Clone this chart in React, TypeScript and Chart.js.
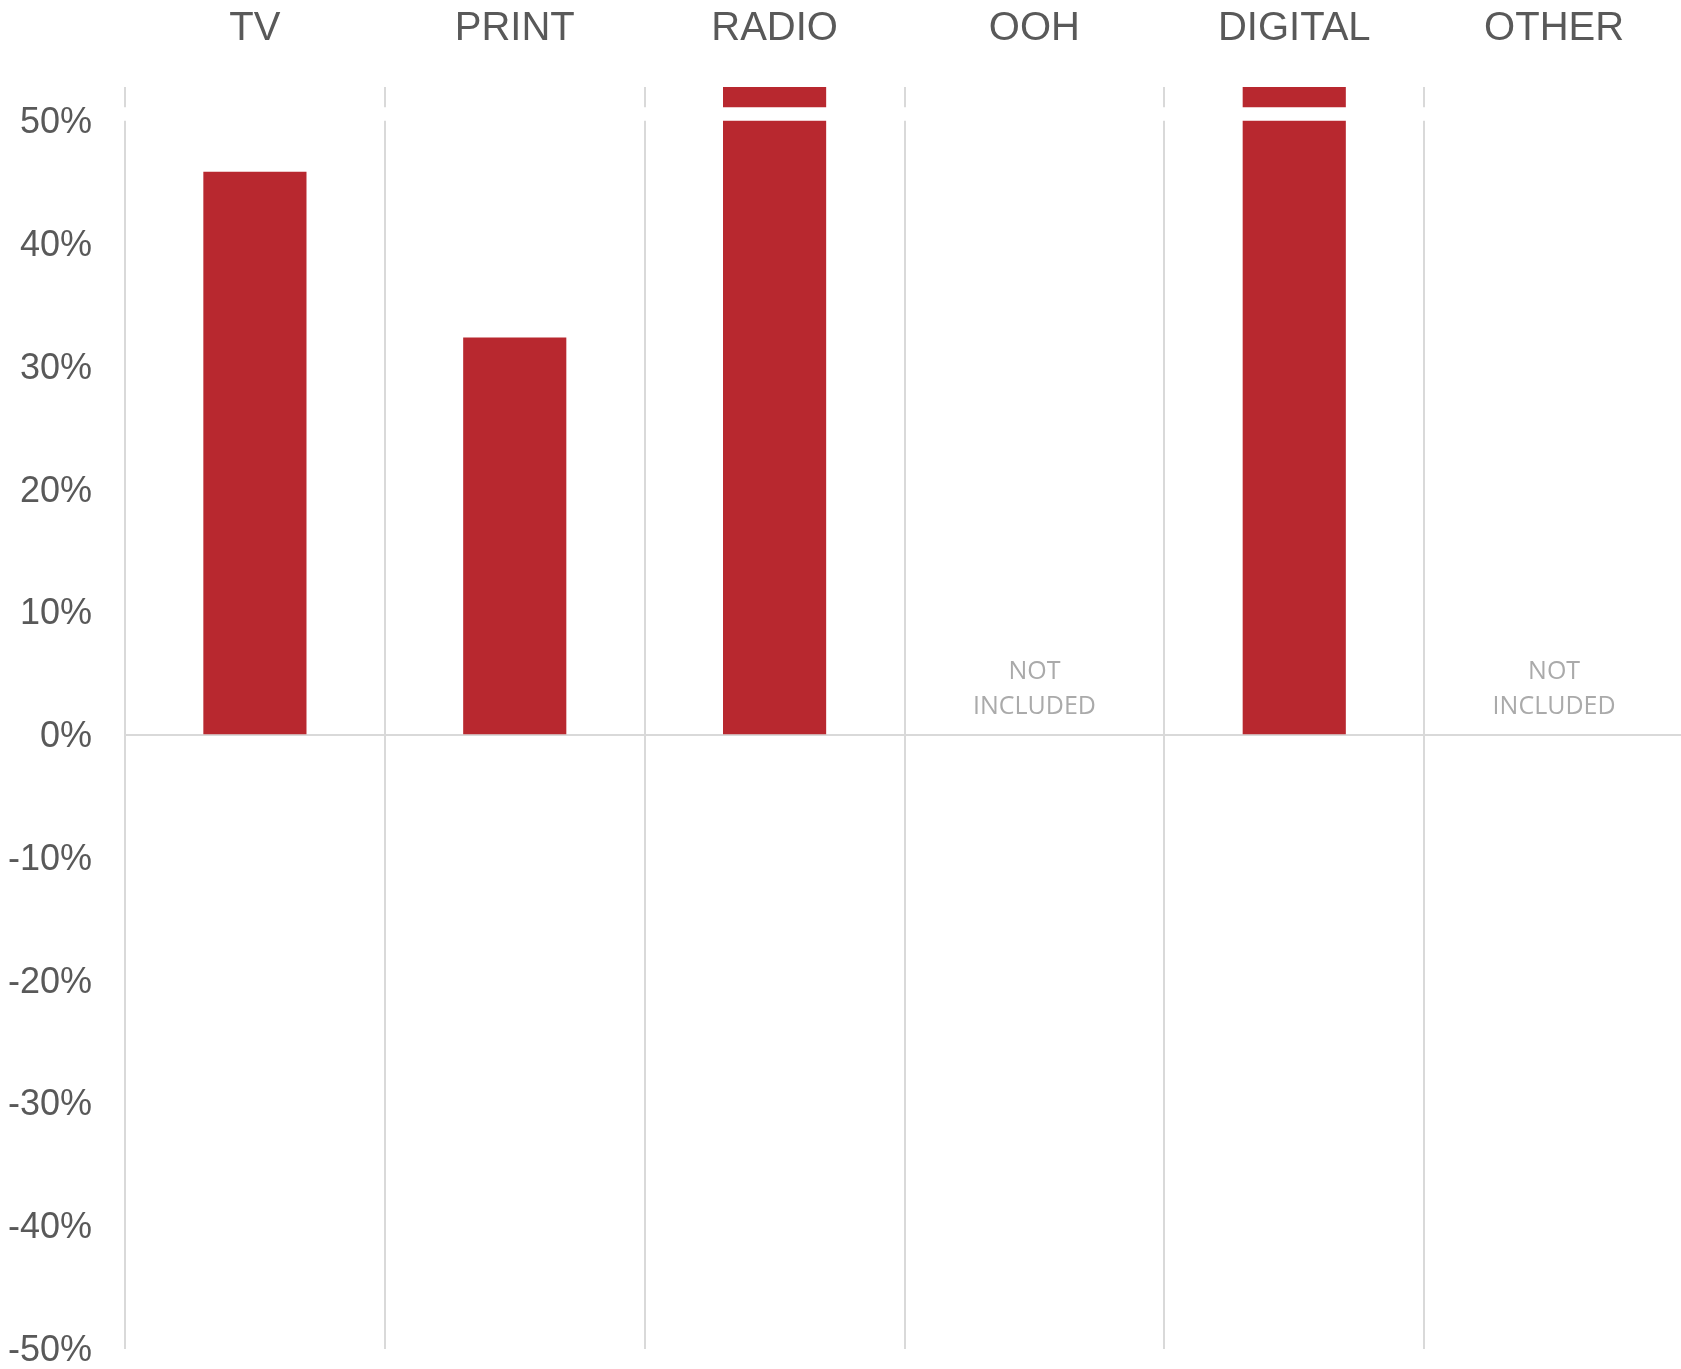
import React, { useEffect, useRef } from 'react';
import { Chart, registerables } from 'chart.js';

Chart.register(...registerables);

const categories = ['TV', 'PRINT', 'RADIO', 'OOH', 'DIGITAL', 'OTHER'];
// Radio and Digital run past the broken top of the axis
const shareValues: (number | null)[] = [45.9, 32.4, 68, null, 72, null];
const yTickValues = [-50, -40, -30, -20, -10, 0, 10, 20, 30, 40, 50];
const notIncludedLines = ['NOT', 'INCLUDED'];
const axisMin = -50;
const axisMax = 52.8;
const breakRange = [50.05, 51.15];

const FONT = '"Liberation Sans", Arial, sans-serif';

export default function App() {
  const ref = useRef<HTMLCanvasElement>(null);

  useEffect(() => {
    if (!ref.current) return;

    const breakPlugin = {
      id: 'axisBreak',
      afterDatasetsDraw(chart: any) {
        const { ctx, chartArea, scales } = chart;
        const y = scales.y;
        const x = scales.x;
        const top = y.getPixelForValue(breakRange[1]);
        const bottom = y.getPixelForValue(breakRange[0]);
        ctx.save();
        ctx.fillStyle = '#ffffff';
        ctx.fillRect(chartArea.left - 3, top, chartArea.right - chartArea.left + 6, bottom - top);
        ctx.restore();

        const zero = y.getPixelForValue(0);
        ctx.save();
        ctx.font = '25px "Open Sans", sans-serif';
        ctx.fillStyle = '#aaaaaa';
        ctx.textAlign = 'center';
        ctx.textBaseline = 'middle';
        shareValues.forEach((v, i) => {
          if (v === null) {
            const cx = x.getPixelForValue(i);
            ctx.fillText(notIncludedLines[0], cx, zero - 63);
            ctx.fillText(notIncludedLines[1], cx, zero - 28);
          }
        });
        ctx.restore();
      },
    };

    const chart = new Chart(ref.current, {
      type: 'bar',
      data: {
        labels: categories,
        datasets: [
          {
            data: shareValues as any,
            backgroundColor: '#B8282F',
            barPercentage: 0.397,
            categoryPercentage: 1,
            clip: 0 as any,
          },
        ],
      },
      options: {
        animation: false,
        responsive: false,
        maintainAspectRatio: false,
        devicePixelRatio: 1,
        layout: { padding: 0 },
        plugins: {
          legend: { display: false },
          tooltip: { enabled: false },
        },
        scales: {
          x: {
            position: 'top',
            offset: true,
            grid: {
              offset: true,
              drawTicks: false,
              color: '#d9d9d9',
              lineWidth: 2,
            },
            border: { display: false },
            ticks: {
              color: '#595959',
              font: { family: FONT, size: 40 },
              padding: 34,
              maxRotation: 0,
              autoSkip: false,
            },
            afterFit: (axis: any) => {
              axis.height = 87;
              axis.paddingLeft = 0;
              axis.paddingRight = 0;
            },
          },
          y: {
            min: axisMin,
            max: axisMax,
            afterBuildTicks: (axis: any) => {
              axis.ticks = yTickValues.map((v) => ({ value: v }));
            },
            ticks: {
              callback: (v: any) => `${v}%`,
              color: '#595959',
              font: { family: FONT, size: 36 },
              padding: 33,
              labelOffset: 2,
              autoSkip: false,
            },
            grid: {
              drawTicks: false,
              lineWidth: 2,
              color: (ctx: any) =>
                ctx.tick && ctx.tick.value === 0 ? '#d9d9d9' : 'rgba(0,0,0,0)',
            },
            border: { display: false },
            afterFit: (axis: any) => {
              axis.width = 125;
              axis.paddingTop = 0;
              axis.paddingBottom = 20;
            },
          },
        },
      },
      plugins: [breakPlugin],
    });

    return () => chart.destroy();
  }, []);

  return (
    <div
      style={{
        position: 'fixed',
        left: 0,
        top: 0,
        width: 1681,
        height: 1369,
        overflow: 'hidden',
        background: '#fff',
      }}
    >
      <canvas ref={ref} width={1684} height={1369} style={{ display: 'block', width: 1684, height: 1369 }} />
    </div>
  );
}
